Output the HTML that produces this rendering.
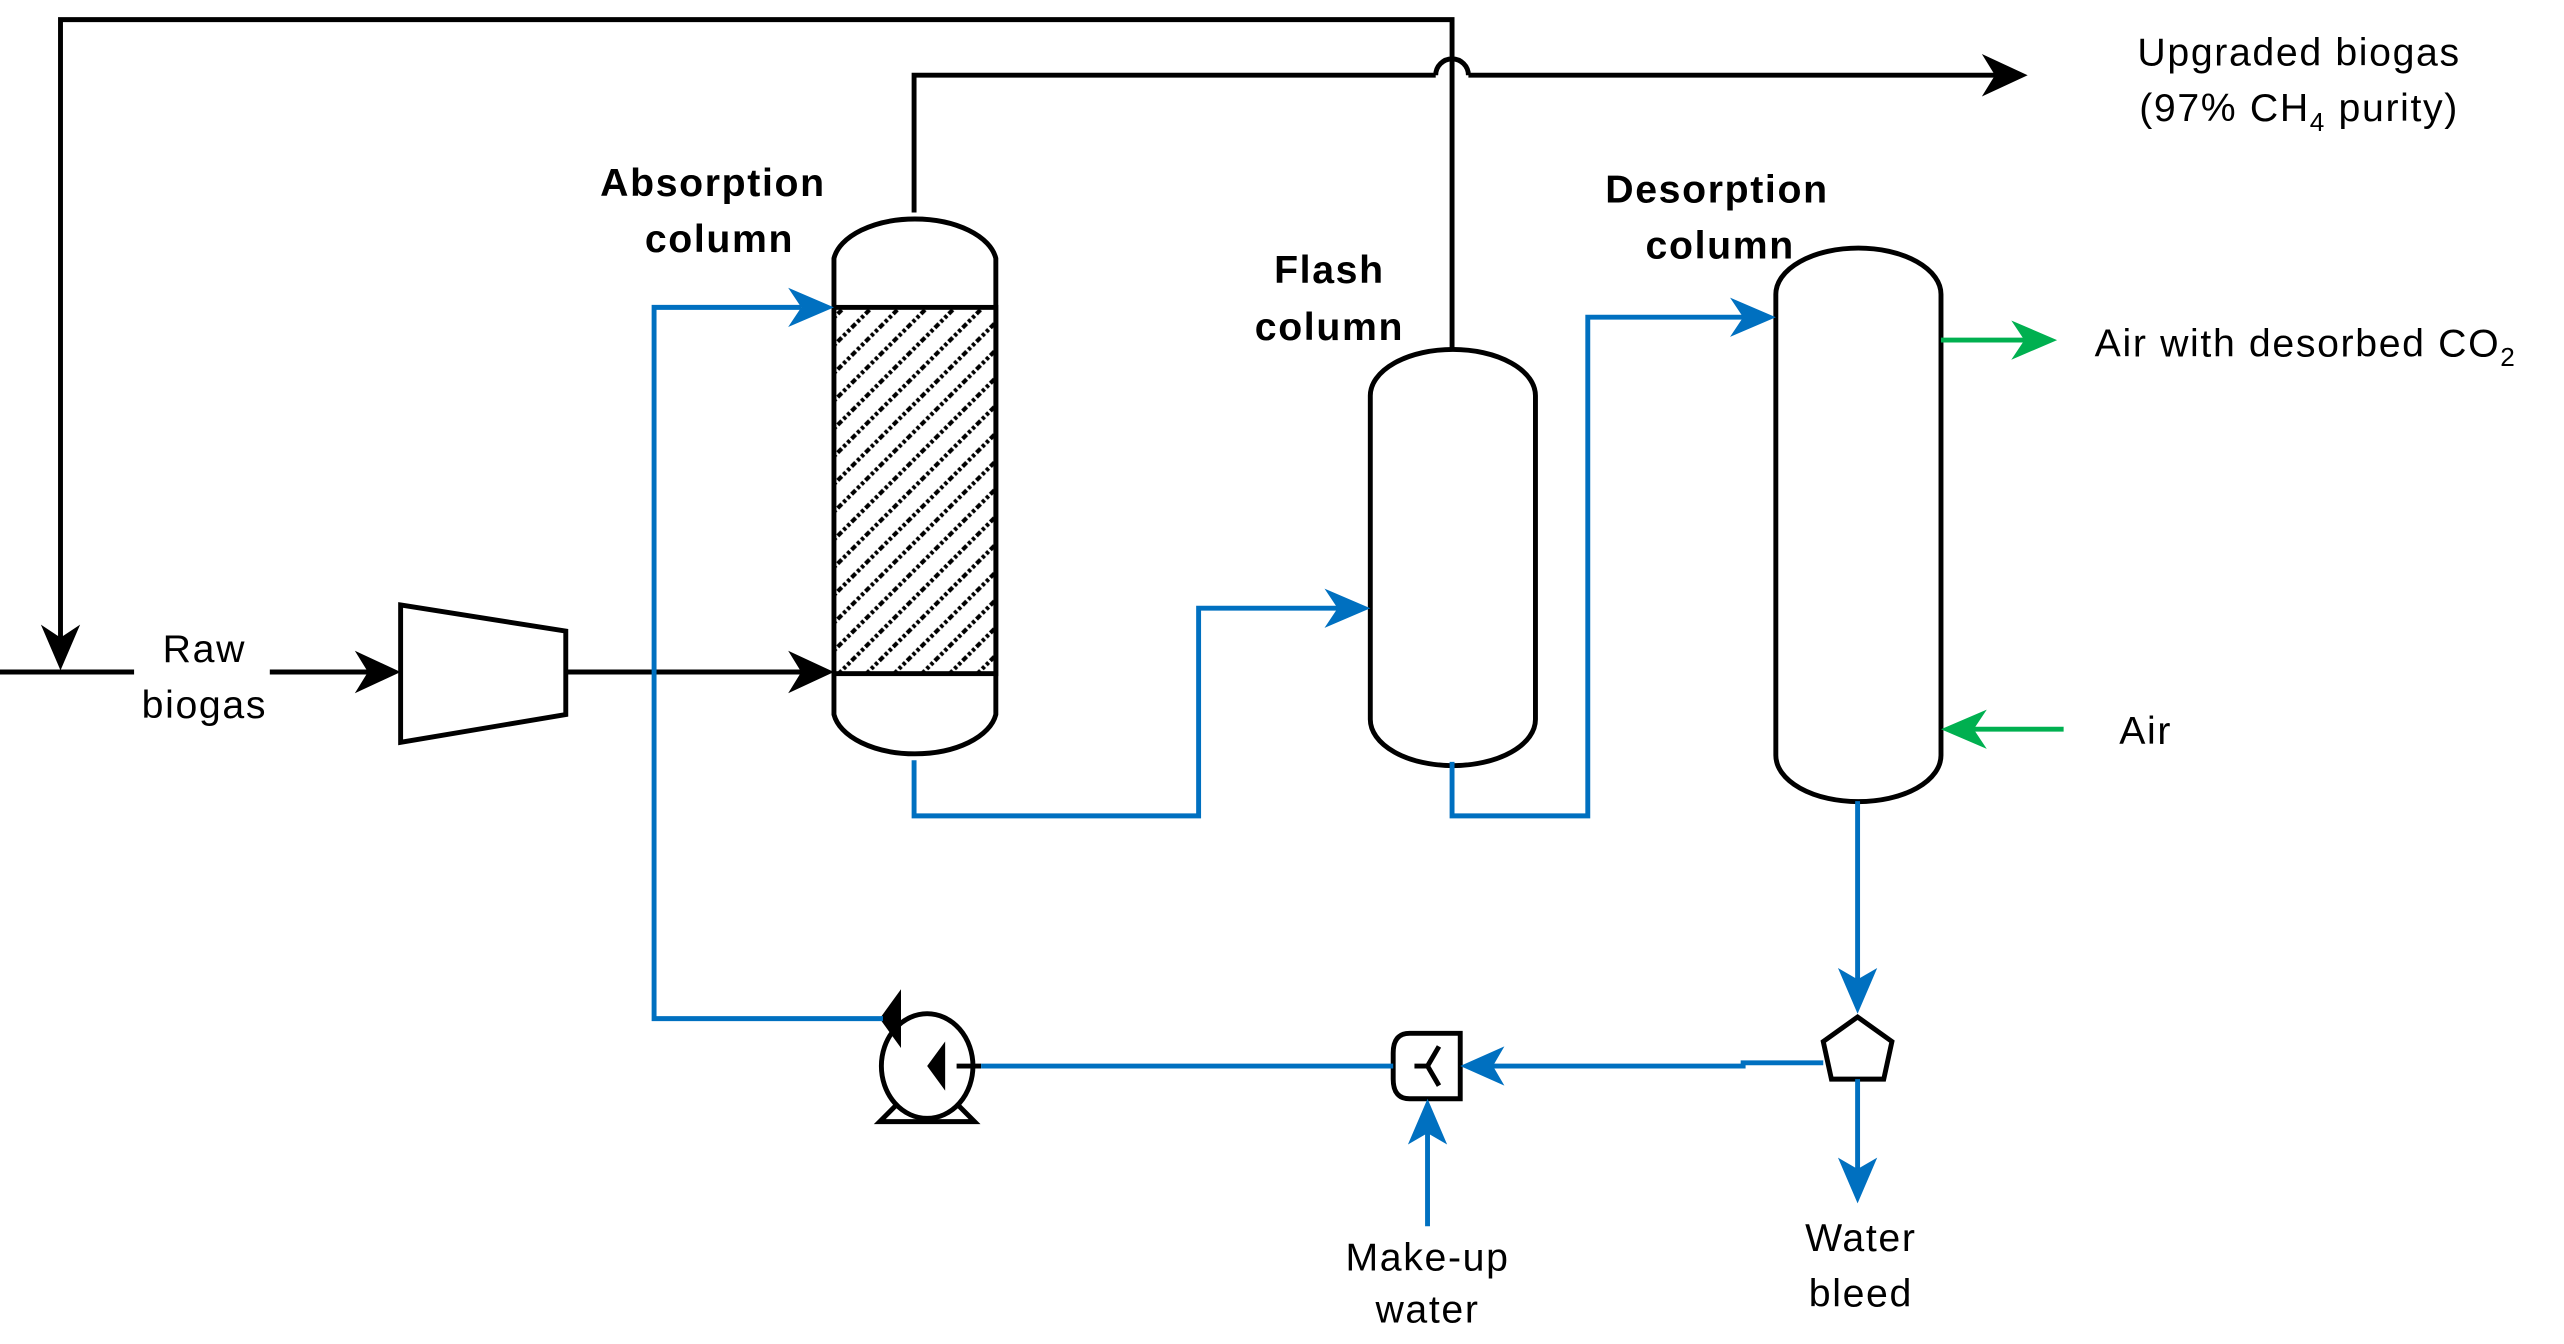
<!DOCTYPE html>
<html><head><meta charset="utf-8"><style>
html,body{margin:0;padding:0;background:#fff;}
svg{display:block;}
text{font-family:"Liberation Sans",Arial,sans-serif;font-size:24px;fill:#000;letter-spacing:1px;}
.b{font-weight:bold;}
</style></head><body>
<svg width="2564" height="1344" viewBox="0 0 1568 822" preserveAspectRatio="none" xmlns="http://www.w3.org/2000/svg">
<defs>
<pattern id="h" width="12" height="12" patternUnits="userSpaceOnUse" patternTransform="rotate(-45)">
<rect width="12" height="12" fill="#fff"/>
<line x1="0" y1="6" x2="12" y2="6" stroke="#000" stroke-width="2.5" stroke-dasharray="2,1.5"/>
</pattern>
</defs>
<g fill="none" stroke="#000" stroke-width="3">
<polyline points="888,214 888,12 37,12 37,395"/>
<line x1="0" y1="411" x2="82" y2="411"/>
<line x1="165" y1="411" x2="230" y2="411"/>
<polygon points="245,370 346,386 346,437 245,454"/>
<line x1="346" y1="411" x2="495" y2="411"/>
<polyline points="559,130 559,46 878,46"/>
<path d="M878,46 A10,10 0 0 1 898,46"/>
<line x1="898" y1="46" x2="1222" y2="46"/>
<path d="M510,158 A50,28 0 0 1 609,158 L609,437 A50,28 0 0 1 510,437 Z"/>
<rect x="510" y="188" width="99" height="224" fill="url(#h)"/>
<path d="M838,242 A50,28 0 0 1 939,242 L939,440 A50,28 0 0 1 838,440 Z"/>
<path d="M1086,180 A50,28 0 0 1 1187,180 L1187,462 A50,28 0 0 1 1086,462 Z"/>
<ellipse cx="567" cy="652" rx="28" ry="32"/>
<polyline points="548,676 538,686 596,686 586,676"/>
<line x1="585" y1="652" x2="600" y2="652"/>
<path d="M862,632 L893,632 L893,672 L862,672 Q852,672 852,660 L852,644 Q852,632 862,632 Z"/>
<path d="M865,652 L873,652 L880,640 M873,652 L880,664"/>
<polygon points="1136,622 1157,637 1152,660 1120,660 1115,637"/>
</g>
<g fill="#000">
<polygon points="37,410 25,382 37,390 49,382"/>
<polygon points="245,411 217,398 225,411 217,424"/>
<polygon points="510,411 482,398 490,411 482,424"/>
<polygon points="1240,46 1212,33 1220,46 1212,59"/>
<polygon points="538,623 551,605 551,641"/>
<polygon points="567,652 578,637 578,667"/>
</g>
<g fill="none" stroke="#0070C0" stroke-width="3">
<polyline points="400,411 400,188 490,188"/>
<polyline points="400,411 400,623 540,623"/>
<line x1="600" y1="652" x2="852" y2="652"/>
<polyline points="1115,650 1066,650 1066,652 905,652"/>
<line x1="873" y1="750" x2="873" y2="685"/>
<polyline points="559,465 559,499 733,499 733,372 820,372"/>
<polyline points="888,466 888,499 971,499 971,194 1068,194"/>
<line x1="1136" y1="490" x2="1136" y2="605"/>
<line x1="1136" y1="660" x2="1136" y2="720"/>
</g>
<g fill="#0070C0">
<polygon points="510,188 482,176 490,188 482,200"/>
<polygon points="838,372 810,360 818,372 810,384"/>
<polygon points="1086,194 1058,182 1066,194 1058,206"/>
<polygon points="893,652 920,640 913,652 920,664"/>
<polygon points="873,672 861,700 873,693 885,700"/>
<polygon points="1136,620 1124,592 1136,599 1148,592"/>
<polygon points="1136,736 1124,708 1136,715 1148,708"/>
</g>
<g stroke="#00B050" stroke-width="3">
<line x1="1187" y1="208" x2="1240" y2="208"/>
<line x1="1262" y1="446" x2="1205" y2="446"/>
</g>
<g fill="#00B050">
<polygon points="1258,208 1230,196 1238,208 1230,220"/>
<polygon points="1187,446 1215,434 1207,446 1215,458"/>
</g>
<text x="125" y="405" text-anchor="middle">Raw</text>
<text x="125" y="439" text-anchor="middle">biogas</text>
<text class="b" x="436" y="120" text-anchor="middle">Absorption</text>
<text class="b" x="440" y="154" text-anchor="middle">column</text>
<text class="b" x="813" y="173" text-anchor="middle">Flash</text>
<text class="b" x="813" y="208" text-anchor="middle">column</text>
<text class="b" x="1050" y="124" text-anchor="middle">Desorption</text>
<text class="b" x="1052" y="158" text-anchor="middle">column</text>
<text x="1406" y="40" text-anchor="middle">Upgraded biogas</text>
<text x="1406" y="74" text-anchor="middle">(97% CH<tspan font-size="16" dy="6">4</tspan><tspan dy="-6"> purity)</tspan></text>
<text x="1281" y="218">Air with desorbed CO<tspan font-size="16" dy="6">2</tspan></text>
<text x="1296" y="455">Air</text>
<text x="873" y="777" text-anchor="middle">Make-up</text>
<text x="873" y="809" text-anchor="middle">water</text>
<text x="1138" y="765" text-anchor="middle">Water</text>
<text x="1138" y="799" text-anchor="middle">bleed</text>
</svg>
</body></html>
